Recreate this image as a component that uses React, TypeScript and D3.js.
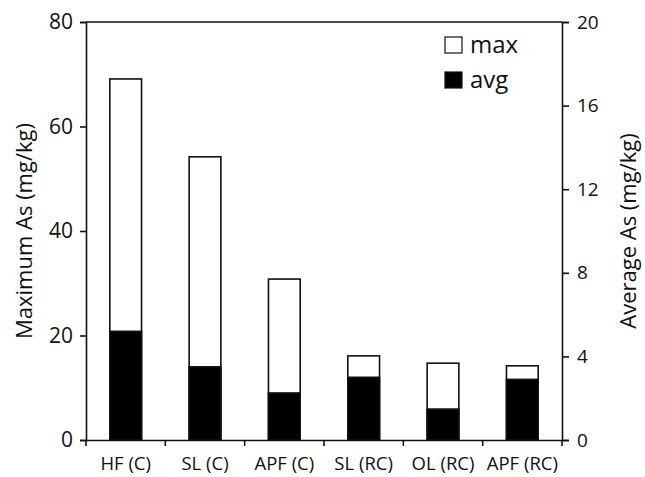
import React, { useEffect, useRef } from 'react';
import * as d3 from 'd3';

const categories = ['HF (C)', 'SL (C)', 'APF (C)', 'SL (RC)', 'OL (RC)', 'APF (RC)'];
const maxValues = [69.1, 54.2, 30.8, 16.1, 14.7, 14.2];
const avgValues = [5.2, 3.5, 2.25, 3.0, 1.48, 2.9];
const leftTicks = [0, 20, 40, 60, 80];
const rightTicks = [0, 4, 8, 12, 16, 20];

const App: React.FC = () => {
  const ref = useRef<SVGSVGElement>(null);

  useEffect(() => {
    if (!ref.current) return;
    const svg = d3.select(ref.current);
    svg.selectAll('*').remove();

    const W = 645;
    const H = 477;
    const margin = { top: 22, right: 83, bottom: 37, left: 86 };
    const width = W - margin.left - margin.right;
    const height = H - margin.top - margin.bottom;
    const font = '"Open Sans", "Noto Sans", sans-serif';

    const g = svg.append('g').attr('transform', `translate(${margin.left},${margin.top})`);

    const x = d3.scaleBand().domain(categories).range([0, width]).paddingInner(0.6).paddingOuter(0.3);
    const band = width / categories.length;
    const yL = d3.scaleLinear().domain([0, 80]).range([height, 0]);
    const yR = d3.scaleLinear().domain([0, 20]).range([height, 0]);

    // max bars
    g.selectAll('rect.max')
      .data(categories)
      .enter()
      .append('rect')
      .attr('class', 'max')
      .attr('x', d => x(d)!)
      .attr('width', x.bandwidth())
      .attr('y', (_, i) => yL(maxValues[i]))
      .attr('height', (_, i) => height - yL(maxValues[i]))
      .attr('fill', 'white')
      .attr('stroke', '#111')
      .attr('stroke-width', 1.6);

    // avg bars (right axis)
    g.selectAll('rect.avg')
      .data(categories)
      .enter()
      .append('rect')
      .attr('class', 'avg')
      .attr('x', d => x(d)!)
      .attr('width', x.bandwidth())
      .attr('y', (_, i) => yR(avgValues[i]))
      .attr('height', (_, i) => height - yR(avgValues[i]))
      .attr('fill', '#000')
      .attr('stroke', '#111')
      .attr('stroke-width', 1.6);

    // frame: top line
    g.append('line')
      .attr('x1', 0).attr('x2', width).attr('y1', 0).attr('y2', 0)
      .attr('stroke', '#111').attr('stroke-width', 1.6);

    const left = g.append('g').call(d3.axisLeft(yL).tickValues(leftTicks).tickSize(6).tickPadding(7));
    const right = g.append('g').attr('transform', `translate(${width},0)`)
      .call(d3.axisRight(yR).tickValues(rightTicks).tickSize(7).tickPadding(8));
    const bottom = g.append('g').attr('transform', `translate(0,${height})`)
      .call(d3.axisBottom(x).tickSize(0).tickPadding(17));
    bottom.selectAll('.tick')
      .append('line')
      .attr('x1', -band / 2).attr('x2', -band / 2)
      .attr('y1', 0).attr('y2', 6);
    bottom.append('line')
      .attr('x1', width).attr('x2', width).attr('y1', 0).attr('y2', 6);

    [left, right, bottom].forEach(a => {
      a.select('.domain').attr('stroke', '#111').attr('stroke-width', 1.6);
      a.selectAll('.tick line, line').attr('stroke', '#111').attr('stroke-width', 1.6);
      a.selectAll('text').attr('fill', '#111').style('font-family', font);
    });
    left.selectAll('text').style('font-size', '21px');
    right.selectAll('text').style('font-size', '19px');
    bottom.selectAll('text').style('font-size', '18.5px');

    svg.append('text')
      .attr('transform', `translate(32,${margin.top + height / 2}) rotate(-90)`)
      .attr('text-anchor', 'middle')
      .style('font-family', font)
      .style('font-size', '22px')
      .attr('fill', '#111')
      .text('Maximum As (mg/kg)');
    svg.append('text')
      .attr('transform', `translate(636,${margin.top + height / 2}) rotate(-90)`)
      .attr('text-anchor', 'middle')
      .style('font-family', font)
      .style('font-size', '22px')
      .attr('fill', '#111')
      .text('Average As (mg/kg)');

    const legend = [
      { label: 'max', fill: 'white' },
      { label: 'avg', fill: '#000' },
    ];
    const lg = svg.append('g').attr('transform', 'translate(445,37)');
    legend.forEach((l, i) => {
      lg.append('rect')
        .attr('x', 0).attr('y', i * 35)
        .attr('width', 17).attr('height', 16)
        .attr('fill', l.fill).attr('stroke', '#111').attr('stroke-width', 1.2);
      lg.append('text')
        .attr('x', 25).attr('y', i * 35 + 16)
        .style('font-family', font)
        .style('font-size', '24px')
        .attr('fill', '#111')
        .text(l.label);
    });
  }, []);

  return (
    <svg
      ref={ref}
      width={645}
      height={477}
      style={{ position: 'absolute', left: 0, top: 0, background: 'white' }}
    />
  );
};

export default App;
